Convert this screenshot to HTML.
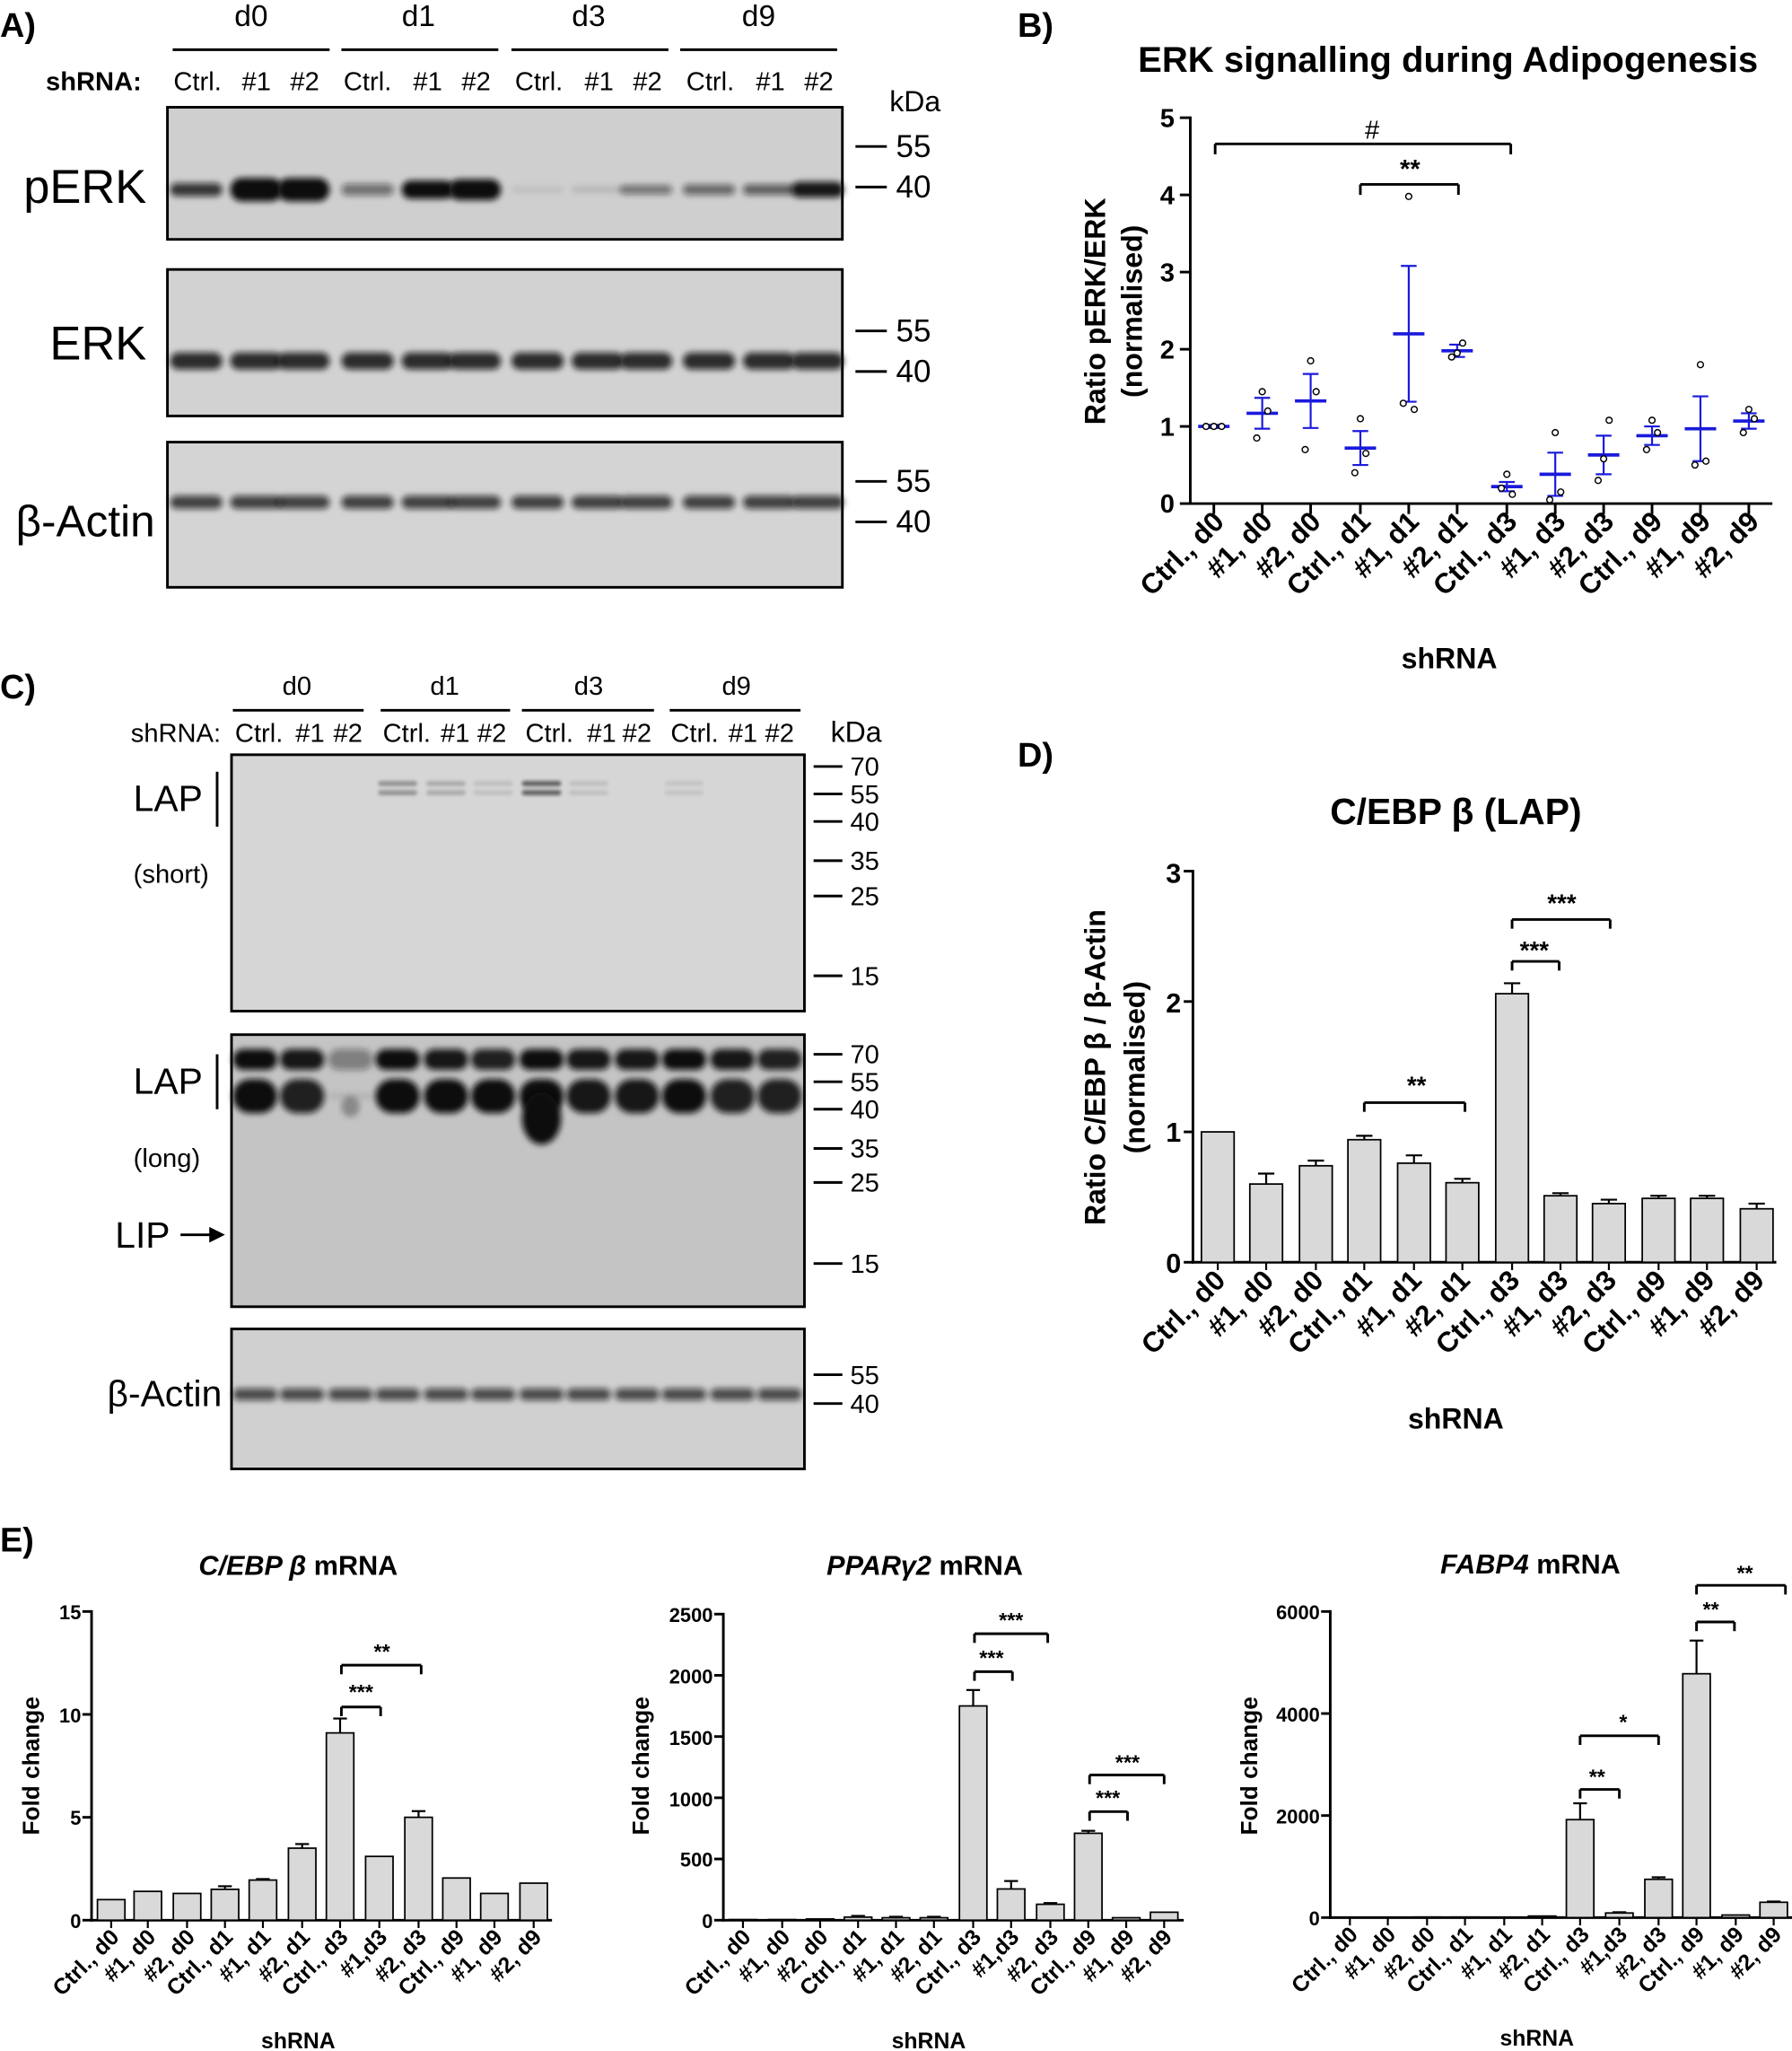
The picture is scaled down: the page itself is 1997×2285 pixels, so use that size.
<!DOCTYPE html>
<html><head><meta charset="utf-8"><style>
html,body{margin:0;padding:0;background:#fff}
svg{display:block}
text{font-family:"Liberation Sans",Arial,sans-serif;fill:#000}
.b{font-weight:bold}
</style></head><body>
<svg id="s" width="1997" height="2285" viewBox="0 0 1370 1568" preserveAspectRatio="none" xmlns="http://www.w3.org/2000/svg">
<defs>
<filter id="bl" x="-20%" y="-100%" width="140%" height="300%"><feGaussianBlur stdDeviation="2.3"/></filter>
<filter id="bl2" x="-20%" y="-100%" width="140%" height="300%"><feGaussianBlur stdDeviation="1.2"/></filter>
</defs>
<g id="g"></g>
<!-- Panel A -->
<text x="0" y="28" font-size="26" class="b">A)</text>
<g font-size="23" text-anchor="middle"><text x="192" y="20">d0</text><text x="320" y="20">d1</text><text x="450" y="20">d3</text><text x="580" y="20">d9</text></g>
<g stroke="#000" stroke-width="2"><line x1="132" y1="38" x2="252" y2="38"/><line x1="261" y1="38" x2="381" y2="38"/><line x1="391" y1="38" x2="511" y2="38"/><line x1="520" y1="38" x2="640" y2="38"/></g>
<text x="35" y="69" font-size="20" class="b">shRNA:</text>
<g font-size="20" text-anchor="middle">
<text x="151" y="69">Ctrl.</text><text x="196" y="69">#1</text><text x="233" y="69">#2</text>
<text x="281" y="69">Ctrl.</text><text x="327" y="69">#1</text><text x="364" y="69">#2</text>
<text x="412" y="69">Ctrl.</text><text x="458" y="69">#1</text><text x="495" y="69">#2</text>
<text x="543" y="69">Ctrl.</text><text x="589" y="69">#1</text><text x="626" y="69">#2</text>
</g>
<text x="680" y="85" font-size="22">kDa</text>
<text x="18" y="155" font-size="36">pERK</text>
<text x="38" y="275" font-size="36">ERK</text>
<text x="12" y="410" font-size="34">β-Actin</text>
<g font-size="24"><text x="685" y="120">55</text><text x="685" y="151">40</text><text x="685" y="261">55</text><text x="685" y="292">40</text><text x="685" y="376">55</text><text x="685" y="407">40</text></g>
<g stroke="#000" stroke-width="2"><line x1="654" y1="112" x2="678" y2="112"/><line x1="654" y1="143" x2="678" y2="143"/><line x1="654" y1="253" x2="678" y2="253"/><line x1="654" y1="284" x2="678" y2="284"/><line x1="654" y1="368" x2="678" y2="368"/><line x1="654" y1="399" x2="678" y2="399"/></g>

<!-- Panel B -->
<text x="778" y="28" font-size="26" class="b">B)</text>
<text x="1107" y="55" font-size="27.5" class="b" text-anchor="middle">ERK signalling during Adipogenesis</text>
<text transform="translate(845,238) rotate(-90)" font-size="22" class="b" text-anchor="middle">Ratio pERK/ERK</text>
<text transform="translate(873,238) rotate(-90)" font-size="22" class="b" text-anchor="middle">(normalised)</text>
<g font-size="20" class="b" text-anchor="end"><text x="898" y="97">5</text><text x="898" y="156">4</text><text x="898" y="215">3</text><text x="898" y="274">2</text><text x="898" y="333">1</text><text x="898" y="392">0</text></g>
<text x="1108" y="511" font-size="22" class="b" text-anchor="middle">shRNA</text>
<text x="1049" y="106" font-size="20" text-anchor="middle">#</text>
<text x="1078" y="136" font-size="20" text-anchor="middle" class="b">**</text>
<g font-size="21.5" class="b" text-anchor="end">
<text transform="translate(937,400) rotate(-45)">Ctrl., d0</text>
<text transform="translate(974,400) rotate(-45)">#1, d0</text>
<text transform="translate(1011,400) rotate(-45)">#2, d0</text>
<text transform="translate(1049,400) rotate(-45)">Ctrl., d1</text>
<text transform="translate(1086,400) rotate(-45)">#1, d1</text>
<text transform="translate(1123,400) rotate(-45)">#2, d1</text>
<text transform="translate(1161,400) rotate(-45)">Ctrl., d3</text>
<text transform="translate(1198,400) rotate(-45)">#1, d3</text>
<text transform="translate(1235,400) rotate(-45)">#2, d3</text>
<text transform="translate(1272,400) rotate(-45)">Ctrl., d9</text>
<text transform="translate(1309,400) rotate(-45)">#1, d9</text>
<text transform="translate(1346,400) rotate(-45)">#2, d9</text>
</g>

<!-- Panel C -->
<text x="0" y="534" font-size="26" class="b">C)</text>
<g font-size="20" text-anchor="middle"><text x="227" y="531">d0</text><text x="340" y="531">d1</text><text x="450" y="531">d3</text><text x="563" y="531">d9</text></g>
<g stroke="#000" stroke-width="2"><line x1="178" y1="543" x2="278" y2="543"/><line x1="291" y1="543" x2="390" y2="543"/><line x1="399" y1="543" x2="500" y2="543"/><line x1="512" y1="543" x2="612" y2="543"/></g>
<text x="100" y="567" font-size="20">shRNA:</text>
<g font-size="20" text-anchor="middle">
<text x="198" y="567">Ctrl.</text><text x="237" y="567">#1</text><text x="266" y="567">#2</text>
<text x="311" y="567">Ctrl.</text><text x="348" y="567">#1</text><text x="376" y="567">#2</text>
<text x="420" y="567">Ctrl.</text><text x="460" y="567">#1</text><text x="487" y="567">#2</text>
<text x="531" y="567">Ctrl.</text><text x="568" y="567">#1</text><text x="596" y="567">#2</text>
</g>
<text x="635" y="567" font-size="22">kDa</text>
<text x="102" y="620" font-size="28">LAP</text>
<text x="102" y="675" font-size="20">(short)</text>
<text x="102" y="836" font-size="28">LAP</text>
<text x="102" y="892" font-size="20">(long)</text>
<text x="88" y="954" font-size="28">LIP</text>
<text x="82" y="1075" font-size="28">β-Actin</text>
<g stroke="#000" stroke-width="2"><line x1="166" y1="590" x2="166" y2="632"/><line x1="166" y1="806" x2="166" y2="848"/><line x1="138" y1="944" x2="165" y2="944"/></g>
<polygon points="172,944 160,938 160,950" fill="#000"/>
<g font-size="20">
<text x="650" y="593">70</text><text x="650" y="614">55</text><text x="650" y="635">40</text><text x="650" y="665">35</text><text x="650" y="692">25</text><text x="650" y="753">15</text>
<text x="650" y="813">70</text><text x="650" y="834">55</text><text x="650" y="855">40</text><text x="650" y="885">35</text><text x="650" y="911">25</text><text x="650" y="973">15</text>
<text x="650" y="1058">55</text><text x="650" y="1080">40</text>
</g>
<g stroke="#000" stroke-width="2">
<line x1="622" y1="586" x2="644" y2="586"/><line x1="622" y1="607" x2="644" y2="607"/><line x1="622" y1="628" x2="644" y2="628"/><line x1="622" y1="658" x2="644" y2="658"/><line x1="622" y1="685" x2="644" y2="685"/><line x1="622" y1="746" x2="644" y2="746"/>
<line x1="622" y1="806" x2="644" y2="806"/><line x1="622" y1="827" x2="644" y2="827"/><line x1="622" y1="848" x2="644" y2="848"/><line x1="622" y1="878" x2="644" y2="878"/><line x1="622" y1="904" x2="644" y2="904"/><line x1="622" y1="966" x2="644" y2="966"/>
<line x1="622" y1="1051" x2="644" y2="1051"/><line x1="622" y1="1073" x2="644" y2="1073"/>
</g>

<!-- Panel D -->
<text x="778" y="586" font-size="26" class="b">D)</text>
<text x="1113" y="630" font-size="28" class="b" text-anchor="middle">C/EBP β (LAP)</text>
<text transform="translate(845,816) rotate(-90)" font-size="22" class="b" text-anchor="middle">Ratio C/EBP β / β-Actin</text>
<text transform="translate(875,816) rotate(-90)" font-size="22" class="b" text-anchor="middle">(normalised)</text>
<g font-size="21" class="b" text-anchor="end"><text x="903" y="675">3</text><text x="903" y="774">2</text><text x="903" y="873">1</text><text x="903" y="973">0</text></g>
<text x="1113" y="1092" font-size="22" class="b" text-anchor="middle">shRNA</text>
<g font-size="19" class="b" text-anchor="middle"><text x="1083" y="836">**</text><text x="1173" y="733">***</text><text x="1194" y="697">***</text></g>
<g font-size="21.5" class="b" text-anchor="end">
<text transform="translate(938,980) rotate(-45)">Ctrl., d0</text>
<text transform="translate(975,980) rotate(-45)">#1, d0</text>
<text transform="translate(1013,980) rotate(-45)">#2, d0</text>
<text transform="translate(1050,980) rotate(-45)">Ctrl., d1</text>
<text transform="translate(1088,980) rotate(-45)">#1, d1</text>
<text transform="translate(1125,980) rotate(-45)">#2, d1</text>
<text transform="translate(1163,980) rotate(-45)">Ctrl., d3</text>
<text transform="translate(1200,980) rotate(-45)">#1, d3</text>
<text transform="translate(1237,980) rotate(-45)">#2, d3</text>
<text transform="translate(1275,980) rotate(-45)">Ctrl., d9</text>
<text transform="translate(1312,980) rotate(-45)">#1, d9</text>
<text transform="translate(1350,980) rotate(-45)">#2, d9</text>
</g>

<!-- Panel E -->
<text x="0" y="1186" font-size="26" class="b">E)</text>
<text x="228" y="1204" font-size="21" class="b" text-anchor="middle"><tspan font-style="italic">C/EBP β</tspan> mRNA</text>
<text x="707" y="1204" font-size="21" class="b" text-anchor="middle"><tspan font-style="italic">PPARγ2</tspan> mRNA</text>
<text x="1170" y="1203" font-size="21" class="b" text-anchor="middle"><tspan font-style="italic">FABP4</tspan> mRNA</text>
<text transform="translate(30,1350) rotate(-90)" font-size="18" class="b" text-anchor="middle">Fold change</text>
<text transform="translate(496,1350) rotate(-90)" font-size="18" class="b" text-anchor="middle">Fold change</text>
<text transform="translate(961,1350) rotate(-90)" font-size="18" class="b" text-anchor="middle">Fold change</text>
<g font-size="15" class="b" text-anchor="end">
<text x="62" y="1238">15</text><text x="62" y="1317">10</text><text x="62" y="1395">5</text><text x="62" y="1474">0</text>
<text x="545" y="1240">2500</text><text x="545" y="1287">2000</text><text x="545" y="1334">1500</text><text x="545" y="1381">1000</text><text x="545" y="1427">500</text><text x="545" y="1474">0</text>
<text x="1009" y="1238">6000</text><text x="1009" y="1316">4000</text><text x="1009" y="1394">2000</text><text x="1009" y="1472">0</text>
</g>
<g font-size="17" class="b" text-anchor="middle">
<text x="228" y="1566">shRNA</text><text x="710" y="1566">shRNA</text><text x="1175" y="1564">shRNA</text>
</g>
<g font-size="16" class="b" text-anchor="middle">
<text x="276" y="1299">***</text><text x="292" y="1268">**</text>
<text x="758" y="1273">***</text><text x="773" y="1244">***</text>
<text x="847" y="1380">***</text><text x="862" y="1353">***</text>
<text x="1221" y="1364">**</text><text x="1241" y="1322">*</text>
<text x="1308" y="1236">**</text><text x="1334" y="1208">**</text>
</g>
<g font-size="17" class="b" text-anchor="end">
<text transform="translate(92,1482) rotate(-45)">Ctrl., d0</text><text transform="translate(120,1482) rotate(-45)">#1, d0</text><text transform="translate(150,1482) rotate(-45)">#2, d0</text><text transform="translate(179,1482) rotate(-45)">Ctrl., d1</text><text transform="translate(208,1482) rotate(-45)">#1, d1</text><text transform="translate(238,1482) rotate(-45)">#2, d1</text><text transform="translate(267,1482) rotate(-45)">Ctrl., d3</text><text transform="translate(297,1482) rotate(-45)">#1,d3</text><text transform="translate(327,1482) rotate(-45)">#2, d3</text><text transform="translate(356,1482) rotate(-45)">Ctrl., d9</text><text transform="translate(385,1482) rotate(-45)">#1, d9</text><text transform="translate(415,1482) rotate(-45)">#2, d9</text>
<text transform="translate(575,1482) rotate(-45)">Ctrl., d0</text><text transform="translate(605,1482) rotate(-45)">#1, d0</text><text transform="translate(634,1482) rotate(-45)">#2, d0</text><text transform="translate(663,1482) rotate(-45)">Ctrl., d1</text><text transform="translate(692,1482) rotate(-45)">#1, d1</text><text transform="translate(721,1482) rotate(-45)">#2, d1</text><text transform="translate(751,1482) rotate(-45)">Ctrl., d3</text><text transform="translate(780,1482) rotate(-45)">#1,d3</text><text transform="translate(810,1482) rotate(-45)">#2, d3</text><text transform="translate(839,1482) rotate(-45)">Ctrl., d9</text><text transform="translate(868,1482) rotate(-45)">#1, d9</text><text transform="translate(897,1482) rotate(-45)">#2, d9</text>
<text transform="translate(1039,1480) rotate(-45)">Ctrl., d0</text><text transform="translate(1068,1480) rotate(-45)">#1, d0</text><text transform="translate(1098,1480) rotate(-45)">#2, d0</text><text transform="translate(1127,1480) rotate(-45)">Ctrl., d1</text><text transform="translate(1157,1480) rotate(-45)">#1, d1</text><text transform="translate(1186,1480) rotate(-45)">#2, d1</text><text transform="translate(1216,1480) rotate(-45)">Ctrl., d3</text><text transform="translate(1245,1480) rotate(-45)">#1,d3</text><text transform="translate(1275,1480) rotate(-45)">#2, d3</text><text transform="translate(1304,1480) rotate(-45)">Ctrl., d9</text><text transform="translate(1334,1480) rotate(-45)">#1, d9</text><text transform="translate(1363,1480) rotate(-45)">#2, d9</text>
</g>
</svg>
<script>
var NS="http://www.w3.org/2000/svg",G=document.getElementById("g");
function el(t,a){var e=document.createElementNS(NS,t);for(var k in a)e.setAttribute(k,a[k]);G.appendChild(e);return e;}
function ln(x1,y1,x2,y2,c,w){el("line",{x1:x1,y1:y1,x2:x2,y2:y2,stroke:c||"#000","stroke-width":w||2});}
function band(cx,cy,w,h,op,f){el("rect",{x:cx-w/2,y:cy-h/2,width:w,height:h,rx:h/2,fill:"#111","fill-opacity":op,filter:"url(#"+(f||"bl")+")"});}
[[82,183,"#cfcfcf"],[206,318,"#d2d2d2"],[338,449,"#d4d4d4"]].forEach(function(b){el("rect",{x:128,y:b[0],width:516,height:b[1]-b[0],fill:b[2],stroke:"#000","stroke-width":2});});
var LA=[150,196,232,281,327,363,411,457,494,542,588,625];
var pe=[0.8,1,1,0.5,1,1,0.08,0.12,0.5,0.55,0.6,0.95],ph=[10,18,18,9,14,16,5,5,7,8,8,12];
LA.forEach(function(x,i){band(x,145,40,ph[i],pe[i]);band(x,276,40,13,0.85);band(x,384,40,10,0.75);});
el("rect",{x:177,y:577,width:438,height:196,fill:"#d6d6d6",stroke:"#000","stroke-width":2});
el("rect",{x:177,y:791,width:438,height:208,fill:"#c4c4c4",stroke:"#000","stroke-width":2});
el("rect",{x:177,y:1016,width:438,height:107,fill:"#d0d0d0",stroke:"#000","stroke-width":2});
var LC=[195,231,268,304,341,377,414,450,487,523,560,596];
[[3,0.3],[4,0.2],[5,0.1],[6,0.6],[7,0.1],[9,0.08]].forEach(function(a){band(LC[a[0]],599,30,4,a[1],"bl2");band(LC[a[0]],606,30,4,a[1],"bl2");});
var t1=[1,0.95,0.4,1,0.95,0.9,1,0.95,0.95,1,0.95,0.9],t2=[1,0.9,0.1,1,1,1,1,0.95,0.95,1,0.9,0.9];
LC.forEach(function(x,i){band(x,810,34,16,t1[i]);band(x,838,34,i==2?4:26,t2[i]);band(x,1066,34,9,0.7);});
band(414,855,30,40,1);band(268,846,14,16,0.3);
var by=function(v){return 385-59*v;};
ln(910,89,910,386);ln(909,385,1355,385);
[0,1,2,3,4,5].forEach(function(v){ln(902,by(v),910,by(v));});
var BX=[928,965,1002,1040,1077,1114,1152,1189,1226,1263,1300,1337];
BX.forEach(function(x){ln(x,385,x,393);});
ln(929,110,1155,110);ln(929,110,929,118);ln(1155,110,1155,118);
ln(1040,141,1115,141);ln(1040,141,1040,149);ln(1115,141,1115,149);
var m=[1,1.17,1.33,0.72,2.2,1.98,0.22,0.38,0.63,0.88,0.97,1.07],se=[0.02,0.2,0.35,0.22,0.88,0.08,0.06,0.28,0.25,0.12,0.42,0.1];
var pts=[[1,1,1],[0.85,1.45,1.2],[0.7,1.85,1.45],[0.4,1.1,0.65],[1.3,3.98,1.22],[1.9,1.95,2.08],[0.2,0.38,0.12],[0.05,0.92,0.15],[0.3,0.58,1.08],[0.7,1.08,0.92],[0.5,1.8,0.55],[0.92,1.22,1.1]];
BX.forEach(function(x,i){var c="#1a1adc";ln(x-12,by(m[i]),x+12,by(m[i]),c,2.5);ln(x,by(m[i]-se[i]),x,by(m[i]+se[i]),c,1.5);ln(x-6,by(m[i]-se[i]),x+6,by(m[i]-se[i]),c,1.5);ln(x-6,by(m[i]+se[i]),x+6,by(m[i]+se[i]),c,1.5);
pts[i].forEach(function(v,j){el("circle",{cx:x+[-6,0,6][j]*(i==0?1:0.7),cy:by(v),r:2.3,fill:"#fff",stroke:"#000","stroke-width":1});});});
function bars(ax,y0,y1,vmax,ticks,X,V,E,w,xend){var sc=(y0-y1)/vmax;ln(ax,y1-1,ax,y0+1);ln(ax-1,y0,xend,y0);
ticks.forEach(function(v){ln(ax-7,y0-v*sc,ax,y0-v*sc);});X.forEach(function(x){ln(x,y0,x,y0+6,"#000",1.5);});
X.forEach(function(x,i){var h=V[i]*sc,e=E[i]*sc;if(e>0){ln(x,y0-h,x,y0-h-e,"#000",1.5);ln(x-w/4,y0-h-e,x+w/4,y0-h-e,"#000",1.5);}
el("rect",{x:x-w/2,y:y0-h,width:w,height:h,fill:"#d9d9d9",stroke:"#000","stroke-width":1.2});});}
function br(x1,x2,y){ln(x1,y,x2,y);ln(x1,y,x1,y+7);ln(x2,y,x2,y+7);}
var DX=[931,968,1006,1043,1081,1118,1156,1193,1230,1268,1305,1343];
bars(912,965,666,3,[0,1,2,3],DX,[1,0.6,0.74,0.94,0.76,0.61,2.06,0.51,0.45,0.49,0.49,0.41],[0,0.08,0.04,0.03,0.06,0.03,0.08,0.02,0.03,0.02,0.02,0.04],25,1358);
br(1043,1120,843);br(1156,1192,735);br(1156,1231,703);
var E1=[85,113,143,172,201,231,260,290,320,349,378,408];
bars(70,1468,1232,15,[0,5,10,15],E1,[1,1.4,1.3,1.5,1.95,3.5,9.1,3.1,5.0,2.05,1.3,1.8],[0,0,0,0.15,0.05,0.2,0.7,0,0.3,0,0,0],21,422);
br(261,291,1305);br(261,322,1273);
var E2=[568,598,627,656,685,714,744,773,803,832,861,890];
bars(553,1468,1234,2500,[0,500,1000,1500,2000,2500],E2,[5,5,10,25,20,20,1750,255,130,710,20,65],[0,0,0,10,8,8,130,65,10,20,0,0],21,905);
br(745,774,1278);br(745,801,1249);br(833,862,1385);br(833,890,1357);
var E3=[1032,1061,1091,1120,1150,1179,1208,1238,1268,1297,1327,1356];
bars(1017,1466,1232,6000,[0,2000,4000,6000],E3,[5,5,10,10,5,30,1920,90,750,4780,50,300],[0,0,0,0,0,0,320,15,40,650,0,15],21,1370);
br(1208,1238,1368);br(1208,1268,1327);br(1297,1326,1240);br(1297,1365,1212);
</script>
</body></html>
